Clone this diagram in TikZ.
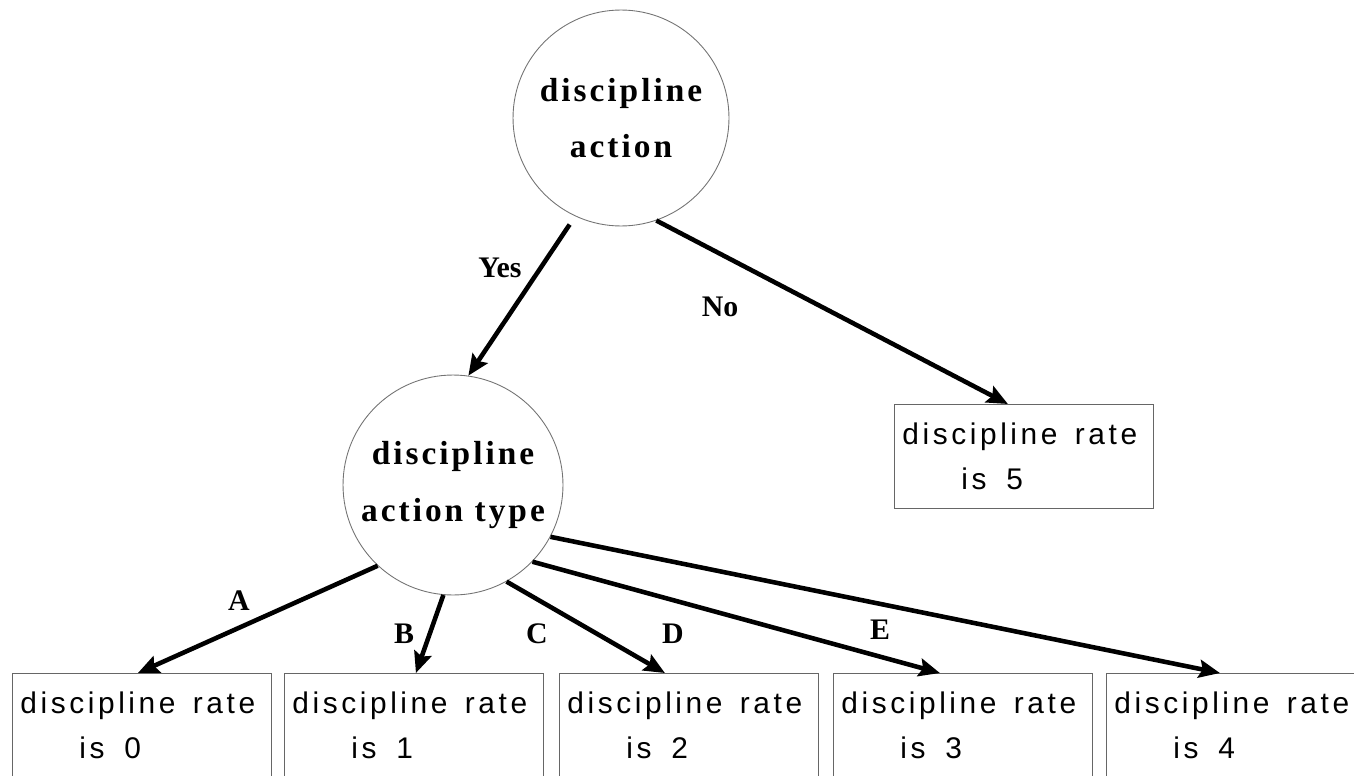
\documentclass[tikz,border=0pt]{standalone}
\usepackage{fontspec}
\usepackage{tikz}
\usetikzlibrary{arrows.meta,calc}
\newfontfamily\ratefont[LetterSpace=12]{Liberation Sans}
\newfontfamily\askfont[LetterSpace=9]{Liberation Serif}
\newfontfamily\edgefont{Liberation Serif}
\newcommand{\ratetext}[1]{discipline\hspace{0.25em} rate\\\hspace*{1.18cm}is\ \ #1}
\tikzset{
  ask/.style={circle, draw=black!55, line width=0.5pt, inner sep=0pt,
    align=center, font=\askfont\bfseries\fontsize{19}{32}\selectfont},
  rate/.style={rectangle, draw=black!60, line width=0.5pt, anchor=north west,
    text width=4.86cm, inner xsep=0.16cm, minimum height=2.08cm, align=left,
    font=\ratefont\fontsize{17}{25.6}\selectfont},
  branch/.style={line width=2.6pt, -{Stealth[length=0.42cm,width=0.36cm,inset=0.07cm]}},
  answer/.style={font=\edgefont\bfseries\fontsize{17}{20}\selectfont}
}

\begin{document}
\begin{tikzpicture}[x=0.02cm, y=-0.02cm]
  \useasboundingbox (0,0) rectangle (1354,777);
  \clip (0,0) rectangle (1354,775.5);
  % decision nodes
  \node[ask, minimum size=4.32cm] (act) at (621,118) {discipline\\action};
  \node[ask, minimum size=4.4cm] (typ) at (453,485) {discipline\\action type};
  % outcomes
  \node[rate] (r5) at (894,404) {\ratetext{5}};
  \foreach \i/\x in {0/12,1/284,2/559,3/833,4/1106}
    \node[rate] (r\i) at (\x,673) {\ratetext{\i}};
  % branches
  \draw[branch, shorten <=0.2cm] (act.245) -- (typ.82);
  \draw[branch] (act.289) -- ($(r5.north)+(-16,0)$);
  \draw[branch] (typ.227) -- ($(r0.north)+(-4,0)$);
  \draw[branch] (typ.265) -- ($(r1.north)+(2,0)$);
  \draw[branch] (typ.299) -- ($(r2.north)+(-24,0)$);
  \draw[branch] (typ.316) -- ($(r3.north)+(-23,0)$);
  \draw[branch] (typ.332) -- ($(r4.north)+(-16,0)$);
  % labels
  \node[answer] (yes) at (500,268) {Yes};
  \node[answer] (no) at (720,307) {No};
  \node[answer] (la) at (239,601) {A};
  \node[answer] (lb) at (404,634) {B};
  \node[answer] (lc) at (537,634) {C};
  \node[answer] (ld) at (673,634) {D};
  \node[answer] (le) at (880,630) {E};
\end{tikzpicture}
\end{document}
